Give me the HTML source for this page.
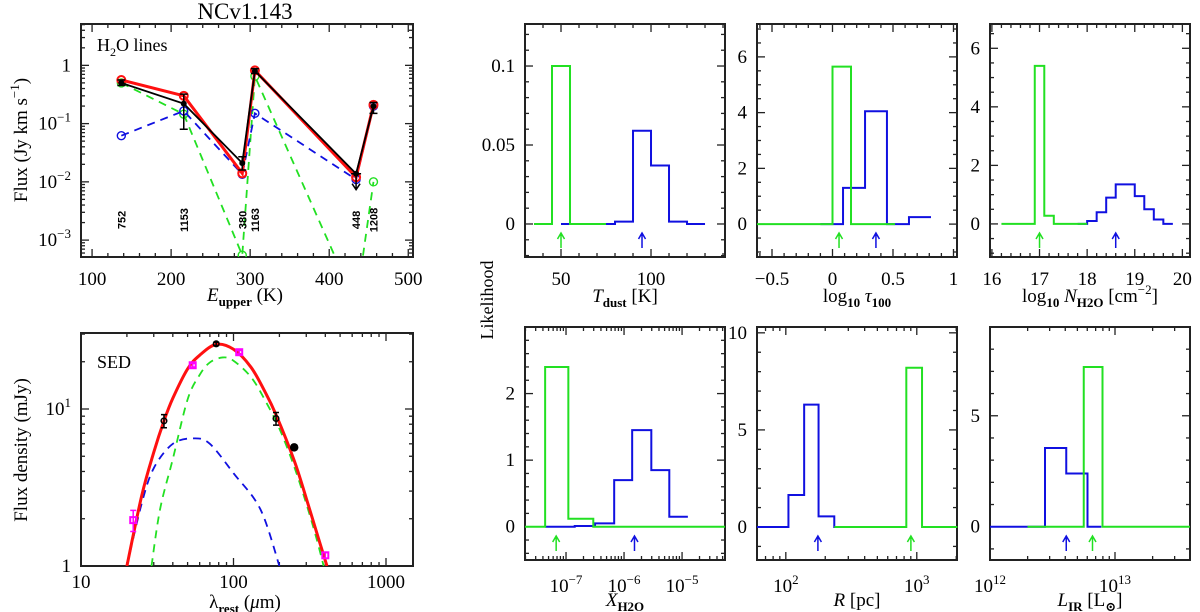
<!DOCTYPE html>
<html><head><meta charset="utf-8">
<style>
html,body{margin:0;padding:0;background:#fff;}
svg{display:block;font-family:"Liberation Serif","DejaVu Serif",serif;}
</style></head>
<body>
<svg id="fig" width="1200" height="612" viewBox="0 0 1200 612" xmlns="http://www.w3.org/2000/svg">
<defs>
<clipPath id="clipTL"><rect x="81" y="24" width="332" height="233"/></clipPath>
<clipPath id="clipSED"><rect x="81" y="333" width="332" height="233"/></clipPath>
</defs>
<text x="245" y="19" font-size="23" text-anchor="middle">NCv1.143</text>
<text transform="translate(493,300) rotate(-90)" font-size="18" text-anchor="middle">Likelihood</text>
</svg>
<script>
// ===== H2O lines panel data =====
const h2oEupper = [137, 216, 290, 306, 434, 456];
const h2oObs = [0.5, 0.22, 0.021, 0.8, 0.0138, 0.2];
const h2oObsHi = [0.56, 0.32, 0.027, 0.88, 0.0138, 0.23];
const h2oObsLo = [0.45, 0.08, 0.016, 0.73, 0.0138, 0.15];
const h2oRed = [0.56, 0.3, 0.014, 0.82, 0.012, 0.21];
const h2oBlue = [0.062, 0.165, 0.0135, 0.15, 0.011, 0.2];
const h2oGreen = [0.5, 0.145, 0.00055, 0.65, 0.00008, 0.01];
const h2oLineLabels = ["752", "1153", "380", "1163", "448", "1208"];
// ===== SED panel data =====
const sedBlackLam = [35, 77, 190, 250];
const sedBlackFlux = [8.4, 26, 8.7, 5.7];
const sedBlackErr = [0.8, 0.6, 0.8, 0.2];
const sedMagLam = [22, 54, 109, 400];
const sedMagFlux = [1.96, 19, 23, 1.17];
const sedMagErr = [0.3, 0.5, 0.6, 0.05];
const sedRedLam = [20, 25, 30, 35, 40, 50, 60, 77, 100, 130, 160, 190, 250, 300, 350, 410];
const sedRedFlux = [1, 2.8, 5.3, 8.4, 11.7, 18, 22, 25.8, 24, 18.5, 13, 9.2, 4.7, 2.7, 1.65, 1];
const sedGreenLam = [29, 33, 40, 50, 60, 70, 85, 100, 130, 160, 200, 250, 300, 350, 390];
const sedGreenFlux = [1, 2.3, 4.8, 11.5, 16.5, 19.8, 21.3, 20.3, 16, 11.5, 7.5, 4.3, 2.5, 1.5, 1];
const sedBlueLam = [20, 25, 30, 40, 55, 70, 100, 150, 200];
const sedBlueFlux = [1, 2.5, 4.2, 6, 6.5, 6, 3.9, 2.3, 1];
// ===== Likelihood histograms =====
const tdustGreenEdges = [35, 45, 55, 65, 75];
const tdustGreenVals = [0, 0.1, 0, 0];
const tdustBlueEdges = [50, 60, 70, 80, 90, 100, 110, 120, 130];
const tdustBlueVals = [0, 0, 0, 0.0015, 0.059, 0.037, 0.0015, 0];
const tdustArrows = [50, 95];
const tauGreenEdges = [-0.624, 0, 0.153, 0.517];
const tauGreenVals = [0, 5.65, 0];
const tauBlueEdges = [-0.1, 0.087, 0.269, 0.45, 0.632, 0.814];
const tauBlueVals = [0, 1.3, 4.05, 0, 0.25];
const tauArrows = [0.054, 0.359];
const nGreenEdges = [16.2, 16.9, 17.1, 17.3, 18.0];
const nGreenVals = [0, 5.4, 0.28, 0];
const nBlueEdges = [17.8, 18.0, 18.2, 18.4, 18.6, 19.0, 19.2, 19.4, 19.6, 19.8];
const nBlueVals = [0, 0.1, 0.4, 0.9, 1.35, 0.95, 0.5, 0.15, 0];
const nArrows = [17.0, 18.6];
const xGreenEdges = [-7.707, -7.36, -6.96, -6.53, -4.26];
const xGreenVals = [0, 2.4, 0.12, 0];
const xBlueEdges = [-7.36, -6.85, -6.5, -6.17, -5.86, -5.53, -5.22, -4.9];
const xBlueVals = [0, 0.01, 0.05, 0.7, 1.45, 0.85, 0.15];
const xArrows = [-7.17, -5.82];
const rBlueEdges = [1.78, 2.02, 2.14, 2.25, 2.37, 2.6];
const rBlueVals = [0, 1.65, 6.3, 0.55, 0];
const rGreenEdges = [2.37, 2.92, 3.04, 3.31];
const rGreenVals = [0, 8.2, 0];
const rArrows = [2.245, 2.955];
const lBlueEdges = [12, 12.44, 12.61, 12.78, 12.89];
const lBlueVals = [0, 3.55, 2.4, 0];
const lGreenEdges = [12.3, 12.75, 12.9, 13.6];
const lGreenVals = [0, 7.2, 0];
const lArrows = [12.61, 12.82];

const NS = "http://www.w3.org/2000/svg";
const svg = document.getElementById('fig');
function mk(tag, attrs, parent) {
  const e = document.createElementNS(NS, tag);
  for (const k in attrs) e.setAttribute(k, attrs[k]);
  (parent || svg).appendChild(e);
  return e;
}
const GREEN = "#22e022", BLUE = "#1010e0", RED = "#ff1010", MAG = "#ff00ff";
const TF = 19;

function makeAxes(p) {
  p.sx = v => p.x0 + (v - p.xmin) / (p.xmax - p.xmin) * (p.x1 - p.x0);
  p.sy = v => p.y1 - (v - p.ymin) / (p.ymax - p.ymin) * (p.y1 - p.y0);
  return p;
}
function tickList(min, max, mode, major, minor) {
  const out = [];
  if (mode === 'log') {
    for (let d = Math.floor(min) - 1; d <= Math.ceil(max); d++)
      for (let k = 1; k <= 9; k++) {
        const v = d + Math.log10(k);
        if (v >= min - 1e-9 && v <= max + 1e-9) out.push([v, k === 1]);
      }
  } else {
    const s = Math.ceil(min / minor - 1e-9);
    for (let i = s; i * minor <= max + 1e-9; i++) {
      const v = i * minor;
      out.push([v, Math.abs(v / major - Math.round(v / major)) < 1e-6]);
    }
  }
  return out;
}
function drawFrame(p, name) {
  const g = mk('g', {});
  
  
  const xt = tickList(p.xmin, p.xmax, p.xmode, p.xmaj, p.xmin_s);
  xt.forEach(([v, M]) => {
    const x = p.sx(v), L = M ? 8 : 4;
    mk('line', {x1: x, x2: x, y1: p.y1, y2: p.y1 - L, stroke: '#222', 'stroke-width': 1.3}, g);
    mk('line', {x1: x, x2: x, y1: p.y0, y2: p.y0 + L, stroke: '#222', 'stroke-width': 1.3}, g);
  });
  const yt = tickList(p.ymin, p.ymax, p.ymode, p.ymaj, p.ymin_s);
  yt.forEach(([v, M]) => {
    const y = p.sy(v), L = M ? 8 : 4;
    mk('line', {x1: p.x0, x2: p.x0 + L, y1: y, y2: y, stroke: '#222', 'stroke-width': 1.3}, g);
    mk('line', {x1: p.x1, x2: p.x1 - L, y1: y, y2: y, stroke: '#222', 'stroke-width': 1.3}, g);
  });
  mk('rect', {x: p.x0, y: p.y0, width: p.x1 - p.x0, height: p.y1 - p.y0, fill: 'none', stroke: '#222', 'stroke-width': 2}, g);
}
function label(x, y, base, sup, anchor, size, name) {
  const t = mk('text', {x: x, y: y, 'font-size': size || TF, 'text-anchor': anchor || 'middle'});
  
  
  t.appendChild(document.createTextNode(base));
  if (sup) {
    const s = mk('tspan', {dy: -8, 'font-size': 13}, t);
    s.textContent = sup;
  }
  return t;
}
function xLabels(p, vals, texts, sups, y) {
  vals.forEach((v, i) => label(p.sx(v), y, texts[i], sups ? sups[i] : null, 'middle', TF, 'x-tick-label'));
}
function yLabels(p, vals, texts, sups) {
  vals.forEach((v, i) => label(p.x0 - 10, p.sy(v) + 6, texts[i], sups ? sups[i] : null, 'end', TF, 'y-tick-label'));
}
function hist(p, edges, vals, color, name) {
  let d = 'M' + p.sx(edges[0]) + ',' + p.sy(vals[0]);
  for (let i = 0; i < vals.length; i++) {
    if (i > 0) d += ' V' + p.sy(vals[i]);
    d += ' H' + p.sx(edges[i + 1]);
  }
  const e = mk('path', {d: d, fill: 'none', stroke: color, 'stroke-width': 2});
  
  
}
function arrow(p, v, color, name) {
  const x = p.sx(v), yb = p.y1 - 9, yt = p.y1 - 24;
  const e = mk('path', {d: `M${x},${yb} V${yt} M${x - 3.5},${yt + 6} L${x},${yt} L${x + 3.5},${yt + 6}`, fill: 'none', stroke: color, 'stroke-width': 1.5});
  
  
}
function xtitle(x, y, parts, name) {
  const t = mk('text', {x: x, y: y, 'font-size': 19, 'text-anchor': 'middle'});
  
  
  parts.forEach(pt => {
    const s = mk('tspan', {}, t);
    if (pt.i) s.setAttribute('font-style', 'italic');
    if (pt.sub) { s.setAttribute('font-size', 13); s.setAttribute('dy', 5); s.setAttribute('font-weight', 'bold'); }
    if (pt.sup) { s.setAttribute('font-size', 13); s.setAttribute('dy', -8); }
    if (pt.back) s.setAttribute('dy', pt.back);
    s.textContent = pt.t;
  });
  return t;
}
function smoothPath(pts) {
  let d = 'M' + pts[0][0] + ',' + pts[0][1];
  for (let i = 0; i < pts.length - 1; i++) {
    const p0 = pts[Math.max(0, i - 1)], p1 = pts[i], p2 = pts[i + 1], p3 = pts[Math.min(pts.length - 1, i + 2)];
    const c1x = p1[0] + (p2[0] - p0[0]) / 6, c1y = p1[1] + (p2[1] - p0[1]) / 6;
    const c2x = p2[0] - (p3[0] - p1[0]) / 6, c2y = p2[1] - (p3[1] - p1[1]) / 6;
    d += ` C${c1x},${c1y} ${c2x},${c2y} ${p2[0]},${p2[1]}`;
  }
  return d;
}

// ===== H2O lines panel =====
const tl = makeAxes({x0: 81, x1: 413, y0: 24, y1: 257, xmin: 86, xmax: 506, ymin: -3.29, ymax: 0.71,
  xmode: 'lin', xmaj: 100, xmin_s: 20, ymode: 'log'});
drawFrame(tl, 'h2o-panel');
xLabels(tl, [100, 200, 300, 400, 500], ['100', '200', '300', '400', '500'], null, 285);
yLabels(tl, [0, -1, -2, -3], ['1', '10', '10', '10'], [null, '−1', '−2', '−3']);
label(97, 51, 'H', null, 'start', 18, 'h2o-panel-label').innerHTML = 'H<tspan font-size="12" dy="5">2</tspan><tspan dy="-5">O  lines</tspan>';
xtitle(245, 301, [{t: 'E', i: 1}, {t: 'upper', sub: 1}, {t: ' (K)', back: -5}], 'h2o-x-axis-title');
{
  const t = mk('text', {transform: 'translate(27,140) rotate(-90)', 'font-size': 19, 'text-anchor': 'middle'});
  
  
  t.innerHTML = 'Flux (Jy km s<tspan font-size="13" dy="-8">−1</tspan><tspan dy="8">)</tspan>';
}
const tlg = mk('g', {'clip-path': 'url(#clipTL)'});
function polyLog(p, xs, ys, color, w, dash, name, parent) {
  const pts = xs.map((x, i) => p.sx(x) + ',' + p.sy(Math.log10(ys[i]))).join(' ');
  const e = mk('polyline', {points: pts, fill: 'none', stroke: color, 'stroke-width': w, 'stroke-dasharray': dash || 'none'}, parent);
  
  
}
function circles(p, xs, ys, color, r, fill, w, name, parent) {
  xs.forEach((x, i) => {
    const c = mk('circle', {cx: p.sx(x), cy: p.sy(Math.log10(ys[i])), r: r, fill: fill, stroke: color, 'stroke-width': w}, parent);
    
    
  });
}
polyLog(tl, h2oEupper, h2oGreen, GREEN, 1.8, '8,6', 'green-model-line', tlg);
circles(tl, h2oEupper, h2oGreen, GREEN, 4, 'none', 1.4, 'green-model-point', tlg);
polyLog(tl, h2oEupper, h2oBlue, BLUE, 1.8, '8,6', 'blue-model-line', tlg);
circles(tl, h2oEupper, h2oBlue, BLUE, 4, 'none', 1.4, 'blue-model-point', tlg);
polyLog(tl, h2oEupper, h2oRed, RED, 3, null, 'red-total-model-line', tlg);
circles(tl, h2oEupper, h2oRed, RED, 4, 'none', 2, 'red-model-point', tlg);
polyLog(tl, h2oEupper, h2oObs, '#000', 1.8, null, 'observed-flux-line', tlg);
h2oEupper.forEach((x, i) => {
  const X = tl.sx(x);
  if (i === 4) {
    const y = tl.sy(Math.log10(h2oObs[i]));
    const e = mk('path', {d: `M${X - 5},${y} H${X + 5} M${X},${y} V${y + 16} M${X - 4},${y + 10} L${X},${y + 16} L${X + 4},${y + 10}`, fill: 'none', stroke: '#000', 'stroke-width': 1.5}, tlg);
    
    
  } else {
    const yh = tl.sy(Math.log10(h2oObsHi[i])), yl = tl.sy(Math.log10(h2oObsLo[i]));
    const e = mk('path', {d: `M${X},${yh} V${yl} M${X - 4},${yh} H${X + 4} M${X - 4},${yl} H${X + 4}`, fill: 'none', stroke: '#000', 'stroke-width': 1.5}, tlg);
    
    
  }
});
circles(tl, h2oEupper, h2oObs, '#000', 2.5, '#000', 1, 'observed-flux-point', tlg);
h2oEupper.forEach((x, i) => {
  const t = mk('text', {transform: `translate(${tl.sx(x) + 4},${220}) rotate(-90)`, 'font-size': 11, 'font-weight': 'bold', 'text-anchor': 'middle', 'font-family': 'Liberation Sans, sans-serif'});
  
  
  t.textContent = h2oLineLabels[i];
});

// ===== SED panel =====
const sed = makeAxes({x0: 81, x1: 413, y0: 333, y1: 566, xmin: 1, xmax: 1 + 332 / 152.5, ymin: 0, ymax: 233 / 157,
  xmode: 'log', ymode: 'log'});
drawFrame(sed, 'sed-panel');
xLabels(sed, [1, 2, 3], ['10', '100', '1000'], null, 588);
yLabels(sed, [0, 1], ['1', '10'], [null, '1']);
label(97, 368, 'SED', null, 'start', 18, 'sed-panel-label');
xtitle(245, 608, [{t: 'λ'}, {t: 'rest', sub: 1}, {t: ' (', back: -5}, {t: 'μ', i: 1}, {t: 'm)'}], 'sed-x-axis-title');
{
  const t = mk('text', {transform: 'translate(27,450) rotate(-90)', 'font-size': 19, 'text-anchor': 'middle'});
  
  
  t.textContent = 'Flux density (mJy)';
}
const sg = mk('g', {'clip-path': 'url(#clipSED)'});
function sedLine(lams, fl, color, w, dash, name) {
  const pts = lams.map((l, i) => [sed.sx(Math.log10(l)), sed.sy(Math.log10(fl[i]))]);
  const e = mk('path', {d: smoothPath(pts), fill: 'none', stroke: color, 'stroke-width': w, 'stroke-dasharray': dash || 'none', 'stroke-linejoin': 'round'}, sg);
  
  
}
sedLine(sedBlueLam, sedBlueFlux, BLUE, 1.8, '8,6', 'sed-blue-component');
sedLine(sedGreenLam, sedGreenFlux, GREEN, 1.8, '8,6', 'sed-green-component');
sedLine(sedRedLam, sedRedFlux, RED, 3, null, 'sed-total-model');
sedMagLam.forEach((l, i) => {
  const X = sed.sx(Math.log10(l)), Y = sed.sy(Math.log10(sedMagFlux[i]));
  const yh = sed.sy(Math.log10(sedMagFlux[i] + sedMagErr[i])), yl = sed.sy(Math.log10(sedMagFlux[i] - sedMagErr[i]));
  const e = mk('path', {d: `M${X},${yh} V${yl} M${X - 3},${yh} H${X + 3} M${X - 3},${yl} H${X + 3}`, stroke: MAG, 'stroke-width': 1.5, fill: 'none'}, sg);
  
  
  const r = mk('rect', {x: X - 3, y: Y - 3, width: 6, height: 6, fill: 'none', stroke: MAG, 'stroke-width': 2}, sg);
  
  
});
sedBlackLam.forEach((l, i) => {
  const X = sed.sx(Math.log10(l)), Y = sed.sy(Math.log10(sedBlackFlux[i]));
  const yh = sed.sy(Math.log10(sedBlackFlux[i] + sedBlackErr[i])), yl = sed.sy(Math.log10(sedBlackFlux[i] - sedBlackErr[i]));
  const e = mk('path', {d: `M${X},${yh} V${yl} M${X - 3},${yh} H${X + 3} M${X - 3},${yl} H${X + 3}`, stroke: '#000', 'stroke-width': 1.5, fill: 'none'}, sg);
  
  
  const c = mk('circle', {cx: X, cy: Y, r: i === 3 ? 3.5 : 2.8, fill: i === 3 ? '#000' : 'none', stroke: '#000', 'stroke-width': 1.5}, sg);
  
  
});

// ===== Likelihood panels =====
const p1 = makeAxes({x0: 525, x1: 725, y0: 24, y1: 257, xmin: 30, xmax: 141.1, ymin: -0.0209, ymax: 0.1266,
  xmode: 'lin', xmaj: 50, xmin_s: 10, ymode: 'lin', ymaj: 0.05, ymin_s: 0.01});
drawFrame(p1, 'tdust-panel');
xLabels(p1, [50, 100], ['50', '100'], null, 285);
yLabels(p1, [0, 0.05, 0.1], ['0', '0.05', '0.1']);
hist(p1, tdustBlueEdges, tdustBlueVals, BLUE, 'tdust-blue-histogram');
hist(p1, tdustGreenEdges, tdustGreenVals, GREEN, 'tdust-green-histogram');
arrow(p1, tdustArrows[0], GREEN, 'tdust-green-arrow');
arrow(p1, tdustArrows[1], BLUE, 'tdust-blue-arrow');
xtitle(625, 302, [{t: 'T', i: 1}, {t: 'dust', sub: 1}, {t: ' [K]', back: -5}], 'tdust-x-axis-title');

const p2 = makeAxes({x0: 757, x1: 957, y0: 24, y1: 257, xmin: -0.624, xmax: 1.029, ymin: -1.18, ymax: 7.18,
  xmode: 'lin', xmaj: 0.5, xmin_s: 0.1, ymode: 'lin', ymaj: 2, ymin_s: 0.5});
drawFrame(p2, 'tau-panel');
xLabels(p2, [-0.5, 0, 0.5, 1], ['−0.5', '0', '0.5', '1'], null, 285);
yLabels(p2, [0, 2, 4, 6], ['0', '2', '4', '6']);
hist(p2, tauBlueEdges, tauBlueVals, BLUE, 'tau-blue-histogram');
hist(p2, tauGreenEdges, tauGreenVals, GREEN, 'tau-green-histogram');
arrow(p2, tauArrows[0], GREEN, 'tau-green-arrow');
arrow(p2, tauArrows[1], BLUE, 'tau-blue-arrow');
xtitle(857, 302, [{t: 'log'}, {t: '10', sub: 1}, {t: ' τ', back: -5, i: 1}, {t: '100', sub: 1}], 'tau-x-axis-title');

const p3 = makeAxes({x0: 990, x1: 1190, y0: 24, y1: 257, xmin: 15.96, xmax: 20.16, ymin: -1.13, ymax: 6.83,
  xmode: 'lin', xmaj: 1, xmin_s: 0.2, ymode: 'lin', ymaj: 2, ymin_s: 0.5});
drawFrame(p3, 'nh2o-panel');
xLabels(p3, [16, 17, 18, 19, 20], ['16', '17', '18', '19', '20'], null, 285);
yLabels(p3, [0, 2, 4, 6], ['0', '2', '4', '6']);
hist(p3, nBlueEdges, nBlueVals, BLUE, 'nh2o-blue-histogram');
hist(p3, nGreenEdges, nGreenVals, GREEN, 'nh2o-green-histogram');
arrow(p3, nArrows[0], GREEN, 'nh2o-green-arrow');
arrow(p3, nArrows[1], BLUE, 'nh2o-blue-arrow');
xtitle(1090, 302, [{t: 'log'}, {t: '10', sub: 1}, {t: ' N', back: -5, i: 1}, {t: 'H2O', sub: 1}, {t: ' [cm', back: -5}, {t: '−2', sup: 1}, {t: ']', back: 8}], 'nh2o-x-axis-title');

const p4 = makeAxes({x0: 525, x1: 725, y0: 327, y1: 560, xmin: -7.707, xmax: -4.26, ymin: -0.5, ymax: 3.0,
  xmode: 'log', ymode: 'lin', ymaj: 1, ymin_s: 0.2});
drawFrame(p4, 'xh2o-panel');
xLabels(p4, [-7, -6, -5], ['10', '10', '10'], ['−7', '−6', '−5'], 592);
yLabels(p4, [0, 1, 2], ['0', '1', '2']);
hist(p4, xBlueEdges, xBlueVals, BLUE, 'xh2o-blue-histogram');
hist(p4, xGreenEdges, xGreenVals, GREEN, 'xh2o-green-histogram');
arrow(p4, xArrows[0], GREEN, 'xh2o-green-arrow');
arrow(p4, xArrows[1], BLUE, 'xh2o-blue-arrow');
xtitle(625, 606, [{t: 'X', i: 1}, {t: 'H2O', sub: 1}], 'xh2o-x-axis-title');

const p5 = makeAxes({x0: 757, x1: 957, y0: 327, y1: 560, xmin: 1.78, xmax: 3.307, ymin: -1.7, ymax: 10.3,
  xmode: 'log', ymode: 'lin', ymaj: 5, ymin_s: 1});
drawFrame(p5, 'radius-panel');
xLabels(p5, [2, 3], ['10', '10'], ['2', '3'], 592);
yLabels(p5, [0, 5, 10], ['0', '5', '10']);
hist(p5, rBlueEdges, rBlueVals, BLUE, 'radius-blue-histogram');
hist(p5, rGreenEdges, rGreenVals, GREEN, 'radius-green-histogram');
arrow(p5, rArrows[0], BLUE, 'radius-blue-arrow');
arrow(p5, rArrows[1], GREEN, 'radius-green-arrow');
xtitle(857, 606, [{t: 'R', i: 1}, {t: ' [pc]'}], 'radius-x-axis-title');

const p6 = makeAxes({x0: 990, x1: 1190, y0: 327, y1: 560, xmin: 12, xmax: 13.6, ymin: -1.5, ymax: 9.0,
  xmode: 'log', ymode: 'lin', ymaj: 5, ymin_s: 1});
drawFrame(p6, 'lir-panel');
xLabels(p6, [12, 13], ['10', '10'], ['12', '13'], 592);
yLabels(p6, [0, 5], ['0', '5']);
hist(p6, lBlueEdges, lBlueVals, BLUE, 'lir-blue-histogram');
hist(p6, lGreenEdges, lGreenVals, GREEN, 'lir-green-histogram');
arrow(p6, lArrows[0], BLUE, 'lir-blue-arrow');
arrow(p6, lArrows[1], GREEN, 'lir-green-arrow');
xtitle(1090, 606, [{t: 'L', i: 1}, {t: 'IR', sub: 1}, {t: ' [L', back: -5}, {t: '⊙', sub: 1}, {t: ']', back: -5}], 'lir-x-axis-title');
</script>
</body></html>
